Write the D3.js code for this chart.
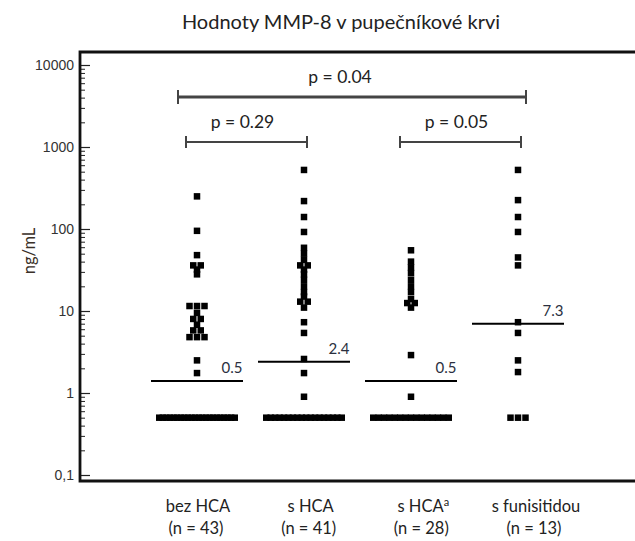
<!DOCTYPE html>
<html>
<head>
<meta charset="utf-8">
<script src="https://cdn.jsdelivr.net/npm/d3@7"></script>
<style>
html,body{margin:0;padding:0;background:#fff;}
svg{display:block;}
</style>
</head>
<body>
<svg id="chart" width="635" height="541"></svg>
<script>
// ---- data ----
const categories = ["bez HCA", "s HCA", "s HCAª", "s funisitidou"];
const nLabels = ["(n = 43)", "(n = 41)", "(n = 28)", "(n = 13)"];
const valuesBezHCA = [250, 95, 48, 36, 36, 32, 28, 11.5, 11.5, 11.5, 9.5, 8, 8, 6.8, 5.8, 5.8, 4.8, 4.8, 4.8, 2.5, 1.75,
  0.5,0.5,0.5,0.5,0.5,0.5,0.5,0.5,0.5,0.5,0.5,0.5,0.5,0.5,0.5,0.5,0.5,0.5,0.5,0.5,0.5,0.5];
const valuesSHCA = [525, 219, 140, 92, 59, 50, 42, 36, 36, 32, 28, 24, 20, 17, 15, 13, 13, 11, 7.3, 5.4, 2.6, 1.75, 0.9,
  0.5,0.5,0.5,0.5,0.5,0.5,0.5,0.5,0.5,0.5,0.5,0.5,0.5,0.5,0.5,0.5,0.5,0.5];
const valuesSHCAa = [55, 40, 34, 29, 24, 20, 17, 14, 12.5, 12.5, 11, 2.9, 0.9,
  0.5,0.5,0.5,0.5,0.5,0.5,0.5,0.5,0.5,0.5,0.5,0.5,0.5,0.5,0.5];
const valuesFunisitida = [525, 225, 140, 92, 45, 36, 7.3, 5.4, 2.5, 1.8, 0.5, 0.5, 0.5];
const medianLineValues = [1.4, 2.4, 1.4, 7.0];
const medianLabels = ["0.5", "2.4", "0.5", "7.3"];
const majorTicks = [0.1, 1, 10, 100, 1000, 10000];
const majorTickLabels = ["0,1", "1", "10", "100", "1000", "10000"];
const pairFrom = [0, 0, 2];
const pairTo = [3, 1, 3];
const pLabels = ["p = 0.04", "p = 0.29", "p = 0.05"];
const pLevel = [0, 1, 1];
const titleText = "Hodnoty MMP-8 v pupečníkové krvi";
const yLabel = "ng/mL";

const groups = [valuesBezHCA, valuesSHCA, valuesSHCAa, valuesFunisitida];

// ---- layout ----
const svg = d3.select("#chart");
const FONT = "Lato, 'Open Sans', sans-serif";
const y = d3.scaleLog().domain([0.1, 10000]).range([475, 65]);
const x = d3.scalePoint().domain(categories).range([197, 518]);
const xLab = d3.scalePoint().domain(categories).range([198, 536]);

const frameLeft = 80, frameTop = y(10000) - 13, frameBottom = y(0.1) + 6;

// title
svg.append("text").attr("x", 341).attr("y", 29).attr("text-anchor", "middle")
  .attr("font-family", FONT).attr("font-size", 20).attr("fill", "#222").text(titleText);

// y label
svg.append("text").attr("transform", `translate(35,251) rotate(-90)`)
  .attr("text-anchor", "middle").attr("font-family", FONT).attr("font-size", 16.5)
  .attr("fill", "#3a3028").text(yLabel);

// minor ticks
const minorTicks = [];
for (let d = 0.1; d < 10000; d *= 10) for (let k = 2; k <= 9; k++) minorTicks.push(d * k);
const minorAxis = d3.axisLeft(y).tickValues(minorTicks).tickSize(-5).tickFormat("");
const gMinor = svg.append("g").attr("transform", `translate(${frameLeft},0)`).call(minorAxis);
gMinor.select(".domain").remove();
gMinor.selectAll("line").attr("stroke", "#222").attr("stroke-width", 1);

const majorAxis = d3.axisLeft(y).tickValues(majorTicks).tickSize(-10).tickPadding(6)
  .tickFormat((d, i) => majorTickLabels[i]);
const gMajor = svg.append("g").attr("transform", `translate(${frameLeft},0)`).call(majorAxis);
gMajor.select(".domain").remove();
gMajor.selectAll("line").attr("stroke", "#222").attr("stroke-width", 1.2);
gMajor.selectAll("text").attr("font-family", "'Liberation Sans', Arial, sans-serif")
  .attr("font-size", 14).attr("fill", "#333");

// frame
svg.append("path")
  .attr("d", `M635,${frameTop}H${frameLeft}V${frameBottom}H635`)
  .attr("fill", "none").attr("stroke", "#111").attr("stroke-width", 2.8);

// points
const S = 6.5;
groups.forEach((vals, gi) => {
  const cx = x(categories[gi]);
  const byVal = d3.groups(vals, v => v);
  const pts = [];
  byVal.forEach(([v, arr]) => {
    const n = arr.length;
    const step = n > 1 ? Math.min(7.5, (82 - S) / (n - 1)) : 0;
    arr.forEach((_, j) => pts.push({ v, dx: (j - (n - 1) / 2) * step }));
  });
  svg.append("g").selectAll("rect").data(pts).join("rect")
    .attr("x", d => cx + d.dx - S / 2).attr("y", d => y(d.v) - S / 2)
    .attr("width", S).attr("height", S).attr("fill", "#000");
  // median line
  const my = y(medianLineValues[gi]);
  svg.append("line").attr("x1", cx - 46).attr("x2", cx + 46).attr("y1", my).attr("y2", my)
    .attr("stroke", "#000").attr("stroke-width", 2);
  svg.append("text").attr("x", cx + 35).attr("y", my - 8).attr("text-anchor", "middle")
    .attr("font-family", FONT).attr("font-size", 15).attr("fill", "#2a3040").text(medianLabels[gi]);
});

// x labels
categories.forEach((c, i) => {
  const t = svg.append("text").attr("x", xLab(c)).attr("y", 512).attr("text-anchor", "middle")
    .attr("font-family", FONT).attr("font-size", 16.5).attr("fill", "#222");
  if (c.endsWith("ª")) {
    t.append("tspan").text(c.slice(0, -1));
    t.append("tspan").attr("font-size", 11).attr("dy", -6).text("a");
  } else t.text(c);
  svg.append("text").attr("x", xLab(c) - 2).attr("y", 534).attr("text-anchor", "middle")
    .attr("font-family", FONT).attr("font-size", 16.5).attr("fill", "#222").text(nLabels[i]);
});

// significance brackets
const levelY = [97, 142], levelW = [3, 2], capH = [7, 6];
pLabels.forEach((lab, i) => {
  const L = pLevel[i];
  const x1 = x(categories[pairFrom[i]]) - (L === 0 ? 19 : 11);
  const x2 = x(categories[pairTo[i]]) + (L === 0 ? 8 : 3);
  const yy = levelY[L];
  const g = svg.append("g").attr("stroke", "#444").attr("stroke-width", levelW[L]).attr("fill", "none");
  g.append("line").attr("x1", x1).attr("x2", x2).attr("y1", yy).attr("y2", yy);
  g.append("line").attr("x1", x1).attr("x2", x1).attr("y1", yy - capH[L]).attr("y2", yy + capH[L]).attr("stroke-width", 2);
  g.append("line").attr("x1", x2).attr("x2", x2).attr("y1", yy - capH[L]).attr("y2", yy + capH[L]).attr("stroke-width", 2);
  svg.append("text").attr("x", (x1 + x2) / 2 - (L === 0 ? 12 : 4)).attr("y", yy - 14)
    .attr("text-anchor", "middle").attr("font-family", FONT).attr("font-size", 17.5)
    .attr("fill", "#222").text(lab);
});
</script>
</body>
</html>
